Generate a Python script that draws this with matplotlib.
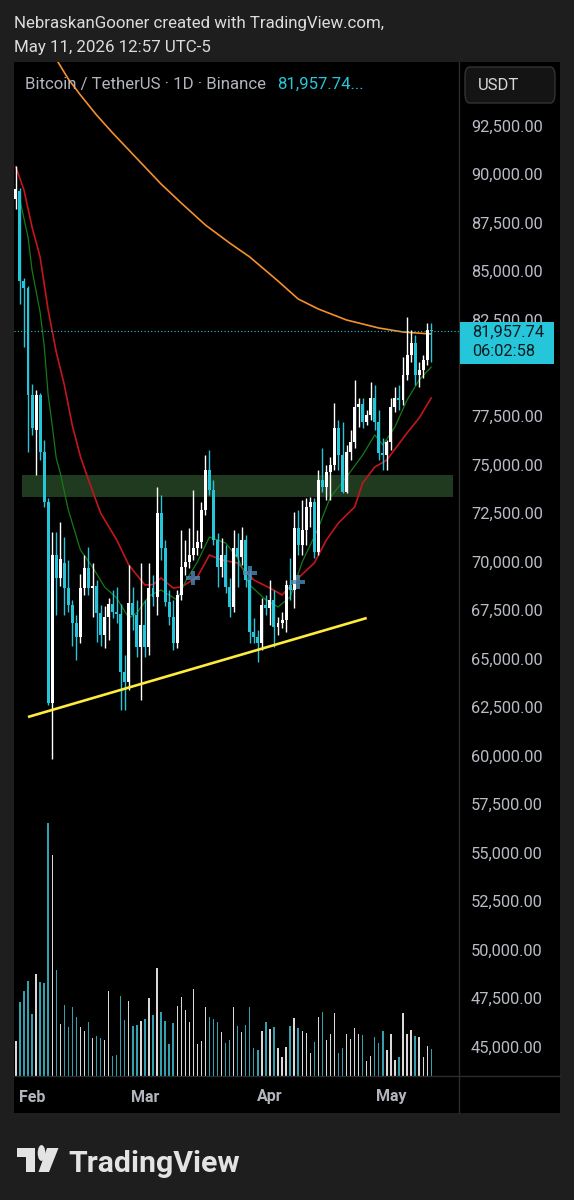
import numpy as np
import pandas as pd
import matplotlib
matplotlib.use("Agg")
import matplotlib.pyplot as plt
import matplotlib.dates as mdates
from matplotlib.patches import Rectangle, FancyBboxPatch, Polygon, Circle
from matplotlib.lines import Line2D
from matplotlib.transforms import blended_transform_factory, Bbox

plt.rcParams['font.family'] = ['Roboto', 'DejaVu Sans']

# ---------------- data ----------------
dates = pd.date_range('2026-01-28', '2026-05-11', freq='D')

opens = [88787, 89199, 84557, 84196, 78677, 76872, 78677, 75737, 73158, 62790,
         70424, 69238, 70012, 68722, 67845, 66916, 66194, 68722, 69753, 68722,
         68825, 67432, 66297, 67226, 67896, 67484, 67380, 64389, 63874, 67948,
         67329, 65679, 66813, 65679, 68722, 68258, 72591, 70785, 67999, 67226,
         65886, 68361, 69805, 70063, 70424, 70785, 71095, 72745, 74808, 73777,
         71198, 69805, 70424, 68773, 67742, 70785, 70321, 71198, 69135, 66452,
         66194, 65886, 67845, 67690, 68103, 66710, 66916, 67071, 68877, 68619,
         71817, 70940, 71714, 72900, 73158, 70579, 74293, 73932, 74705, 75066,
         76975, 75582, 73674, 75737, 76253, 78058, 78213, 77284, 77645, 78522,
         77284, 75685, 75582, 76253, 78058, 78522, 78419, 79709, 80740, 81358,
         79709, 79967, 80482, 82029]
highs = [90489, 89354, 84712, 84299, 79244, 78935, 78780, 76356, 73364, 71611,
         71611, 72126, 71353, 70166, 68103, 67329, 69444, 70424, 70836, 70012,
         69135, 67845, 67793, 68206, 68619, 68773, 67900, 65266, 69908, 68773,
         68103, 70012, 68103, 70012, 69393, 73932, 73519, 71198, 68619, 68103,
         68619, 71714, 71198, 71817, 73777, 71714, 73158, 75582, 75840, 74293,
         71560, 71301, 70940, 69238, 71714, 71559, 71868, 71460, 69650, 67174,
         66555, 68206, 68361, 69135, 68619, 67226, 67484, 69135, 70269, 72642,
         72745, 73261, 73364, 73416, 73364, 74808, 75943, 75066, 75479, 78265,
         77387, 77284, 76098, 76872, 79451, 78522, 78522, 77903, 79348, 79193,
         77903, 76459, 76356, 78522, 79090, 79193, 80637, 82700, 82029, 81772,
         80379, 80740, 82391, 82391]
lows = [88271, 83371, 81153, 75737, 76613, 74550, 75324, 72900, 62687, 59902,
        67329, 68825, 67329, 67484, 65731, 65008, 65886, 68361, 68361, 67226,
        65937, 65731, 65628, 66040, 67174, 66916, 62429, 62429, 63461, 66555,
        65163, 62945, 65163, 65266, 67793, 67329, 70166, 67793, 66813, 65524,
        65628, 68103, 69393, 69753, 70166, 70424, 70785, 72488, 73519, 70940,
        68773, 69289, 68464, 67226, 67484, 68773, 69908, 68773, 65886, 65886,
        64905, 65524, 67329, 66813, 65679, 66297, 66658, 66452, 68103, 67690,
        70424, 70424, 70940, 71868, 70269, 70424, 73674, 73261, 73261, 74808,
        74808, 73622, 73622, 75324, 75943, 77027, 76975, 77130, 77387, 76872,
        75324, 74808, 74808, 75840, 77800, 77903, 78161, 79451, 80379, 79193,
        79090, 79554, 80224, 80379]
closes = [89302, 84557, 84196, 78677, 76975, 78677, 75737, 73158, 62790, 70424,
          69238, 70218, 68722, 67845, 66916, 66194, 68722, 69753, 68722, 68825,
          67432, 66297, 67226, 67896, 67484, 67380, 64389, 63874, 67948, 67329,
          65679, 66813, 65679, 68722, 68258, 72591, 70785, 67999, 67226, 65886,
          68361, 69805, 70063, 70424, 70785, 71095, 72745, 74808, 73777, 71198,
          69805, 70424, 68773, 67742, 70785, 70321, 71198, 69135, 66452, 66194,
          65886, 67845, 67690, 68103, 66710, 66916, 67071, 68877, 68619, 71817,
          70940, 71714, 72900, 73158, 70579, 74293, 73932, 74705, 75066, 76975,
          75582, 73674, 75737, 76253, 78058, 78213, 77284, 77645, 78522, 77284,
          75685, 75582, 76253, 78058, 78522, 78419, 79709, 80740, 81358, 79709,
          79967, 80482, 82029, 81957.74]
volumes = [14.1, 29.5, 34.0, 38.0, 24.8, 40.8, 37.7, 37.1, 101.3, 88.4,
           42.5, 20.8, 28.3, 19.7, 27.7, 23.5, 19.6, 17.9, 21.7, 15.2,
           16.1, 15.3, 14.4, 34.0, 8.1, 8.4, 32.0, 22.4, 29.9, 20.1,
           20.5, 22.0, 22.7, 31.1, 24.3, 43.2, 25.6, 22.0, 12.8, 21.1,
           28.0, 31.5, 26.4, 21.6, 34.7, 12.9, 14.0, 27.6, 23.7, 22.8,
           21.7, 17.7, 13.2, 14.5, 27.6, 20.1, 17.5, 20.4, 27.7, 11.3,
           10.4, 18.1, 21.6, 18.7, 19.7, 11.3, 7.6, 11.7, 19.9, 23.1,
           19.3, 17.9, 17.1, 9.2, 13.5, 23.6, 25.6, 14.4, 16.7, 25.2,
           9.2, 11.3, 16.7, 14.8, 19.2, 16.7, 16.3, 6.1, 8.0, 15.7,
           13.2, 17.9, 10.4, 16.8, 6.4, 7.6, 25.2, 16.7, 18.4, 16.0,
           15.7, 7.6, 12.0, 10.8]

ema_fast_dates = ['2026-01-29', '2026-01-31', '2026-02-01', '2026-02-03', '2026-02-04',
                  '2026-02-05', '2026-02-06', '2026-02-07', '2026-02-08', '2026-02-10',
                  '2026-02-13', '2026-02-16', '2026-02-19', '2026-02-22', '2026-02-25',
                  '2026-02-27', '2026-03-02', '2026-03-05', '2026-03-09', '2026-03-11',
                  '2026-03-14', '2026-03-17', '2026-03-21', '2026-03-24', '2026-03-27',
                  '2026-03-31', '2026-04-03', '2026-04-06', '2026-04-09', '2026-04-13',
                  '2026-04-16', '2026-04-20', '2026-04-24', '2026-04-27', '2026-04-29',
                  '2026-05-02', '2026-05-05', '2026-05-08', '2026-05-11']
ema_fast = [88735, 86827, 85125, 82958, 81256, 78677, 77130, 75427, 74654, 72745,
            70682, 69805, 68773, 68206, 67174, 67432, 68309, 68618, 68103, 69031,
            70063, 71353, 71043, 70269, 68876, 68103, 67742, 68257, 70063, 71817,
            73416, 74447, 75583, 76614, 76098, 77027, 78419, 79451, 80121]

ema_slow_dates = ['2026-01-28', '2026-01-30', '2026-02-01', '2026-02-03', '2026-02-05',
                  '2026-02-07', '2026-02-09', '2026-02-11', '2026-02-13', '2026-02-15',
                  '2026-02-18', '2026-02-22', '2026-02-25', '2026-03-01', '2026-03-03',
                  '2026-03-05', '2026-03-08', '2026-03-10', '2026-03-14', '2026-03-17',
                  '2026-03-20', '2026-03-24', '2026-03-28', '2026-04-01', '2026-04-04',
                  '2026-04-08', '2026-04-12', '2026-04-15', '2026-04-18', '2026-04-22',
                  '2026-04-24', '2026-04-27', '2026-04-30', '2026-05-05', '2026-05-08',
                  '2026-05-11']
ema_slow = [90437, 89251, 87342, 85800, 83061, 80900, 79200, 77100, 75500, 74300,
            72590, 71198, 69908, 68876, 68900, 69237, 68721, 68773, 69289, 70424,
            70166, 70011, 69135, 68721, 68361, 69237, 70011, 71198, 72075, 72900,
            74138, 74963, 75324, 76717, 77491, 78522]

ma200_dates = ['2026-02-07', '2026-02-10', '2026-02-13', '2026-02-17', '2026-02-21',
               '2026-02-25', '2026-03-01', '2026-03-05', '2026-03-10', '2026-03-16',
               '2026-03-22', '2026-03-27', '2026-04-03', '2026-04-08', '2026-04-13',
               '2026-04-20', '2026-04-28', '2026-05-04', '2026-05-11']
ma200 = [96000, 94976, 94151, 93119, 92191, 91314, 90437, 89560, 88580, 87445,
         86517, 85795, 84557, 83629, 83113, 82545, 82133, 81926, 81823]

zone_dates = ['2026-01-29 12:00', '2026-05-16 12:00']
zone_prices = [73416, 74550]
trend_dates = ['2026-01-31', '2026-04-25']
trend_prices = [62068, 67174]
marker_dates = ['2026-03-13', '2026-03-27', '2026-04-08']
marker_prices = [69237, 69496, 69047]

last_price = 81957.74
countdown = '06:02:58'
price_ticks = list(range(45000, 92501, 2500))
month_dates = ['2026-02-01', '2026-03-01', '2026-04-01', '2026-05-01']
month_labels = ['Feb', 'Mar', 'Apr', 'May']

# ---------------- style ----------------
W, H = 574, 1200
BG = '#1e1e1e'
UP = '#ffffff'
DOWN = '#26c6da'
VUP = '#d9d9d9'
VDOWN = '#33a0b0'
AXTXT = '#b8bcc4'
LABEL_FS = 11.8


def fx(px):
    return px / W


def fy(py):
    return 1 - py / H


fig = plt.figure(figsize=(W / 100, H / 100), dpi=100, facecolor=BG)

# black panel (chart + price scale + time scale)
fig.add_artist(Rectangle((fx(14), fy(1113)), fx(560) - fx(14), fy(62) - fy(1113),
                         transform=fig.transFigure, facecolor='black', edgecolor='none', zorder=-1))

ax_left, ax_right, ax_top, ax_bot = 14, 459.3, 62, 1076
ax = fig.add_axes([fx(ax_left), fy(ax_bot), (ax_right - ax_left) / W, (ax_bot - ax_top) / H])
ax.set_facecolor('black')
for s in ax.spines.values():
    s.set_visible(False)

xs = mdates.date2num(dates)
feb1 = mdates.date2num(pd.Timestamp('2026-02-01'))
ax.set_xlim(feb1 - 4.47, feb1 + 105.96)
ax.set_ylim(43550, 95853)
ax.set_xticks([])
ax.set_yticks([])

o = np.array(opens, float)
h = np.array(highs, float)
l = np.array(lows, float)
c = np.array(closes, float)
up = c >= o
cols = np.where(up, UP, DOWN)

# support / resistance zone
zx = mdates.date2num(pd.to_datetime(zone_dates))
ax.add_patch(Rectangle((zx[0], zone_prices[0]), zx[1] - zx[0], zone_prices[1] - zone_prices[0],
                       facecolor='#1f3a1f', edgecolor='none', zorder=1))

# moving averages
ax.plot(mdates.date2num(pd.to_datetime(ma200_dates)), ma200, color='#f5902b', lw=1.2, zorder=2)
ax.plot(mdates.date2num(pd.to_datetime(ema_slow_dates)), ema_slow, color='#c3161c', lw=1.2, zorder=2)
ax.plot(mdates.date2num(pd.to_datetime(ema_fast_dates)), ema_fast, color='#157a17', lw=0.9, zorder=2)

# candles
ax.vlines(xs, l, h, colors=cols, lw=1.0, zorder=3)
body_lo = np.minimum(o, c)
body_h = np.maximum(np.abs(c - o), 60)
ax.bar(xs, body_h, bottom=body_lo, width=0.74, color=cols, edgecolor='none', zorder=4)

# trend line
ax.plot(mdates.date2num(pd.to_datetime(trend_dates)), trend_prices, color='#ffeb3b', lw=1.9,
        solid_capstyle='butt', zorder=5)

# markers
ax.plot(mdates.date2num(pd.to_datetime(marker_dates)), marker_prices, linestyle='none',
        marker='P', markersize=10, color='#4d8bb8', alpha=0.8, markeredgewidth=0, zorder=6)

# last price line
ax.axhline(last_price, color=DOWN, lw=0.8, linestyle=(0, (1, 2)), zorder=2)

# volume overlay
ax2 = ax.twinx()
ax2.set_ylim(0, (ax_bot - ax_top) / 2.5)
ax2.set_xlim(ax.get_xlim())
ax2.set_yticks([])
for s in ax2.spines.values():
    s.set_visible(False)
ax2.bar(xs, volumes, width=0.33, color=np.where(up, VUP, VDOWN), edgecolor='none')

# price scale labels (the box of the last price covers the scale around it)
box_top, box_bot = 322, 364
tr_y = blended_transform_factory(ax.transAxes, ax.transData)
x_lab = (471 - ax_left) / (ax_right - ax_left)
above_box = Bbox([[fx(ax_right) * W, H - box_top], [W, H - ax_top]])
for p in price_ticks:
    t = ax.text(x_lab, p, f'{p:,.2f}', transform=tr_y, ha='left', va='center',
                fontsize=LABEL_FS, color=AXTXT, clip_on=False)
    py = ax_top + (95853 - p) / (95853 - 43550) * (ax_bot - ax_top)
    if box_top - 12 < py < box_bot + 12:
        t.set_clip_on(True)
        t.set_clip_box(above_box)

# time scale labels
tr_x = blended_transform_factory(ax.transData, ax.transAxes)
y_lab = -(1097 - ax_bot) / (ax_bot - ax_top)
for d, lab in zip(month_dates, month_labels):
    ax.text(mdates.date2num(pd.Timestamp(d)), y_lab, lab, transform=tr_x, ha='center', va='center',
            fontsize=11.5, fontweight='bold', color='#b2b5be', clip_on=False)

# separators
fig.add_artist(Line2D([fx(ax_right), fx(ax_right)], [fy(62), fy(1113)], color='#2c2c2c', lw=1,
                      transform=fig.transFigure, zorder=2))
fig.add_artist(Line2D([fx(14), fx(560)], [fy(ax_bot), fy(ax_bot)], color='#2c2c2c', lw=1,
                      transform=fig.transFigure, zorder=2))

# last price box
fig.add_artist(Rectangle((fx(459.5), fy(box_bot)), fx(554) - fx(459.5), fy(box_top) - fy(box_bot),
                         transform=fig.transFigure, facecolor='#26c6da', edgecolor='none', zorder=3))
fig.text(fx(472), fy(332.5), f'{last_price:,.2f}', ha='left', va='center', fontsize=LABEL_FS,
         color='#0b1b1f', zorder=4)
fig.text(fx(472), fy(351.5), countdown, ha='left', va='center', fontsize=LABEL_FS,
         color='#0b1b1f', zorder=4)

# currency box
fig.add_artist(FancyBboxPatch((fx(465), fy(103)), fx(555) - fx(465), fy(67) - fy(103),
                              boxstyle='round,pad=0,rounding_size=0.008', transform=fig.transFigure,
                              facecolor='#141414', edgecolor='#333333', lw=1, zorder=3))
fig.text(fx(478), fy(86), 'USDT', ha='left', va='center', fontsize=12, color='#d8d8d8', zorder=4)

# header
fig.text(fx(14), fy(28), 'NebraskanGooner created with TradingView.com,', ha='left', va='baseline',
         fontsize=12.2, color='#dcdcdc')
fig.text(fx(14), fy(52), 'May 11, 2026 12:57 UTC-5', ha='left', va='baseline',
         fontsize=12.2, color='#dcdcdc')

# legend line
fig.text(fx(25), fy(84), 'Bitcoin / TetherUS · 1D · Binance', ha='left', va='center',
         fontsize=12.1, color='#b2b5be', zorder=4)
fig.text(fx(277), fy(84), f'{last_price:,.2f}...', ha='left', va='center',
         fontsize=12.1, color='#26c6da', zorder=4)

# TradingView logo
logo_col = '#e3e3e3'
fig.add_artist(Polygon([(fx(17), fy(1148)), (fx(35), fy(1148)), (fx(35), fy(1172)),
                        (fx(25.5), fy(1172)), (fx(25.5), fy(1157)), (fx(17), fy(1157))],
                       closed=True, transform=fig.transFigure, facecolor=logo_col, edgecolor='none'))
fig.add_artist(Circle((fx(41.5), fy(1153)), 3.8 / W, transform=fig.transFigure,
                      facecolor=logo_col, edgecolor='none'))
fig.add_artist(Polygon([(fx(47), fy(1148)), (fx(58.5), fy(1148)), (fx(49), fy(1172)),
                        (fx(38.5), fy(1172))],
                       closed=True, transform=fig.transFigure, facecolor=logo_col, edgecolor='none'))
fig.text(fx(68), fy(1172), 'TradingView', ha='left', va='baseline', fontsize=21.8,
         fontweight='bold', color=logo_col)

fig.savefig('out.png', dpi=100, facecolor=BG)
